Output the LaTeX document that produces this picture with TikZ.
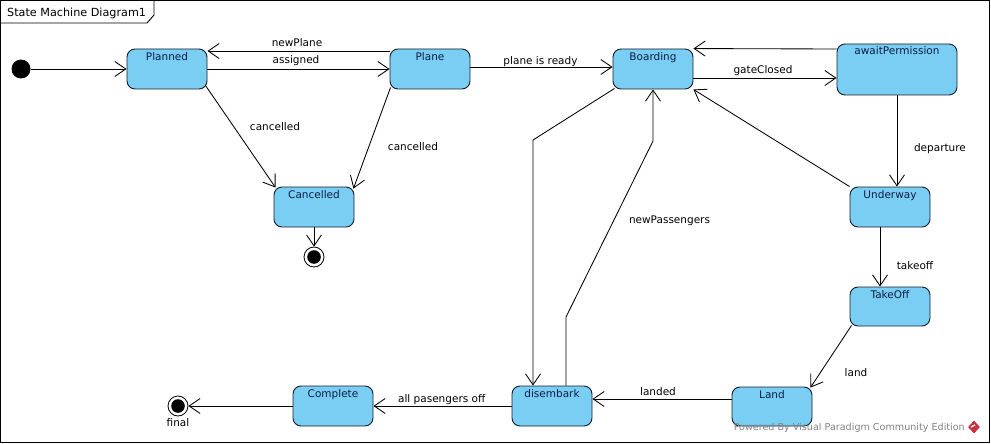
\documentclass[tikz,border=0pt]{standalone}
\usepackage{fontspec}
\setmainfont{DejaVu Sans}
\usetikzlibrary{arrows.meta,shapes.geometric}
\definecolor{stfill}{RGB}{122,205,243}
\definecolor{stdraw}{RGB}{20,28,40}
\definecolor{sttext}{RGB}{15,30,70}
\definecolor{wmgray}{RGB}{130,130,130}
\definecolor{vpred}{RGB}{200,50,60}
\tikzset{
  state/.style={draw=stdraw, fill=stfill, line width=0.9pt, rounded corners=8pt,
    inner xsep=0pt, inner ysep=0pt, text height=11pt, text depth=29pt,
    minimum width=80pt, text=sttext, font=\fontsize{10.5}{12}\selectfont},
  tr/.style={draw, line width=0.85pt, -{Straight Barb[length=11pt,width=15pt,line width=0.85pt]}},
  lbl/.style={inner sep=0pt, anchor=base, font=\fontsize{10.5}{12}\selectfont},
  initst/.style={circle, fill=black, minimum size=19pt, inner sep=0pt},
  finalst/.style={circle, draw=black, fill=white, line width=0.8pt, minimum size=20pt, inner sep=0pt},
}
\begin{document}
\begin{tikzpicture}[x=1pt,y=-1pt]
\useasboundingbox (0,0) rectangle (991,444);
% frame
\draw[line width=0.9pt] (0.5,0.5) rectangle (989.5,442.5);
\draw[line width=0.9pt] (0.5,23) -- (147,23) -- (154,15) -- (154,0.5);
\node[inner sep=0pt, anchor=base west, font=\fontsize{11.2}{13}\selectfont] (title) at (7,16.7) {State Machine Diagram1};

% states
\node[state] (planned) at (167,69) {Planned};
\node[state] (plane) at (430,69) {Plane};
\node[state] (boarding) at (653,69) {Boarding};
\node[state, minimum width=120pt, text depth=40pt] (await) at (897,69.5) {awaitPermission};
\node[state] (cancelled) at (314,207) {Cancelled};
\node[state] (underway) at (890,207) {Underway};
\node[state, text depth=28pt] (takeoff) at (890,306.5) {TakeOff};
\node[state, text depth=28pt] (land) at (772,406.5) {Land};
\node[state] (disembark) at (552,406) {disembark};
\node[state] (complete) at (333,406) {Complete};

% pseudo states
\node[initst] (init) at (21,69) {};
\node[finalst] (fin1) at (314,257) {};
\fill (fin1.center) circle (6.8pt);
\node[finalst] (fin2) at (178,406) {};
\fill (fin2.center) circle (6.8pt);
\node[lbl] (finlbl) at (178,426.7) {final};

% bend coordinates
\coordinate (bd) at (533,140);
\coordinate (np1) at (566,317);
\coordinate (np2) at (653,141);

% transitions
\draw[tr] (init) -- (planned.west);
\draw[tr] (planned.east) -- (plane.west);
\node[lbl] (l-assigned) at (296,64) {assigned};
\draw[tr] ([yshift=18pt]plane.west) -- ([yshift=18pt]planned.east);
\node[lbl] (l-newplane) at (297,46.7) {newPlane};
\draw[tr] ([yshift=2pt]plane.east) -- ([yshift=2pt]boarding.west);
\node[lbl] (l-ready) at (540.5,64.3) {plane is ready};
\draw[tr] ([yshift=20.5pt]await.west) -- (boarding.north east);
\draw[tr] ([yshift=-9pt]boarding.east) -- ([yshift=-8.5pt]await.west);
\node[lbl] (l-gate) at (763,73.3) {gateClosed};
\draw[tr] (await.south) -- ([xshift=7pt]underway.north);
\node[lbl] (l-dep) at (940,151.7) {departure};
\draw[tr] (underway.north west) -- (boarding.south east);
\draw[tr] ([xshift=-10pt]underway.south) -- ([xshift=-10pt]takeoff.north);
\node[lbl] (l-takeoff) at (915,269) {takeoff};
\draw[tr] ([shift={(2pt,1pt)}]takeoff.south west) -- ([shift={(-2pt,-1pt)}]land.north east);
\node[lbl] (l-land) at (856,376.7) {land};
\draw[tr] ([yshift=7.5pt]land.west) -- ([yshift=7pt]disembark.east);
\node[lbl] (l-landed) at (658,395.7) {landed};
\draw[tr] (disembark.west) -- (complete.east);
\node[lbl] (l-off) at (441.7,402.3) {all pasengers off};
\draw[tr] (complete.west) -- (fin2);
\draw[tr] ([shift={(2pt,1pt)}]boarding.south west) -- (bd) -- ([xshift=-19pt]disembark.north);
\draw[tr] ([xshift=14pt]disembark.north) -- (np1) -- (np2) -- (boarding.south);
\node[lbl] (l-newpass) at (669.5,223) {newPassengers};
\draw[tr] ([shift={(-2pt,4pt)}]planned.south east) -- ([shift={(2pt,-1pt)}]cancelled.north west);
\node[lbl] (l-canc1) at (275,130.7) {cancelled};
\draw[tr] ([shift={(1pt,2pt)}]plane.south west) -- ([shift={(-1pt,-2pt)}]cancelled.north east);
\node[lbl] (l-canc2) at (413,150.7) {cancelled};
\draw[tr] (cancelled.south) -- (fin1);

% watermark
\node[inner sep=0pt, anchor=base east, text=wmgray, font=\fontsize{9.6}{11}\selectfont] (wm) at (965,430.3) {Powered By Visual Paradigm Community Edition};
\node[diamond, fill=vpred, minimum width=12pt, minimum height=13pt, inner sep=0pt] (logo) at (974,427) {};
\draw[white, line width=1.2pt] ([shift={(-3pt,0pt)}]logo.center) -- ([shift={(1pt,2pt)}]logo.center);
\end{tikzpicture}
\end{document}
